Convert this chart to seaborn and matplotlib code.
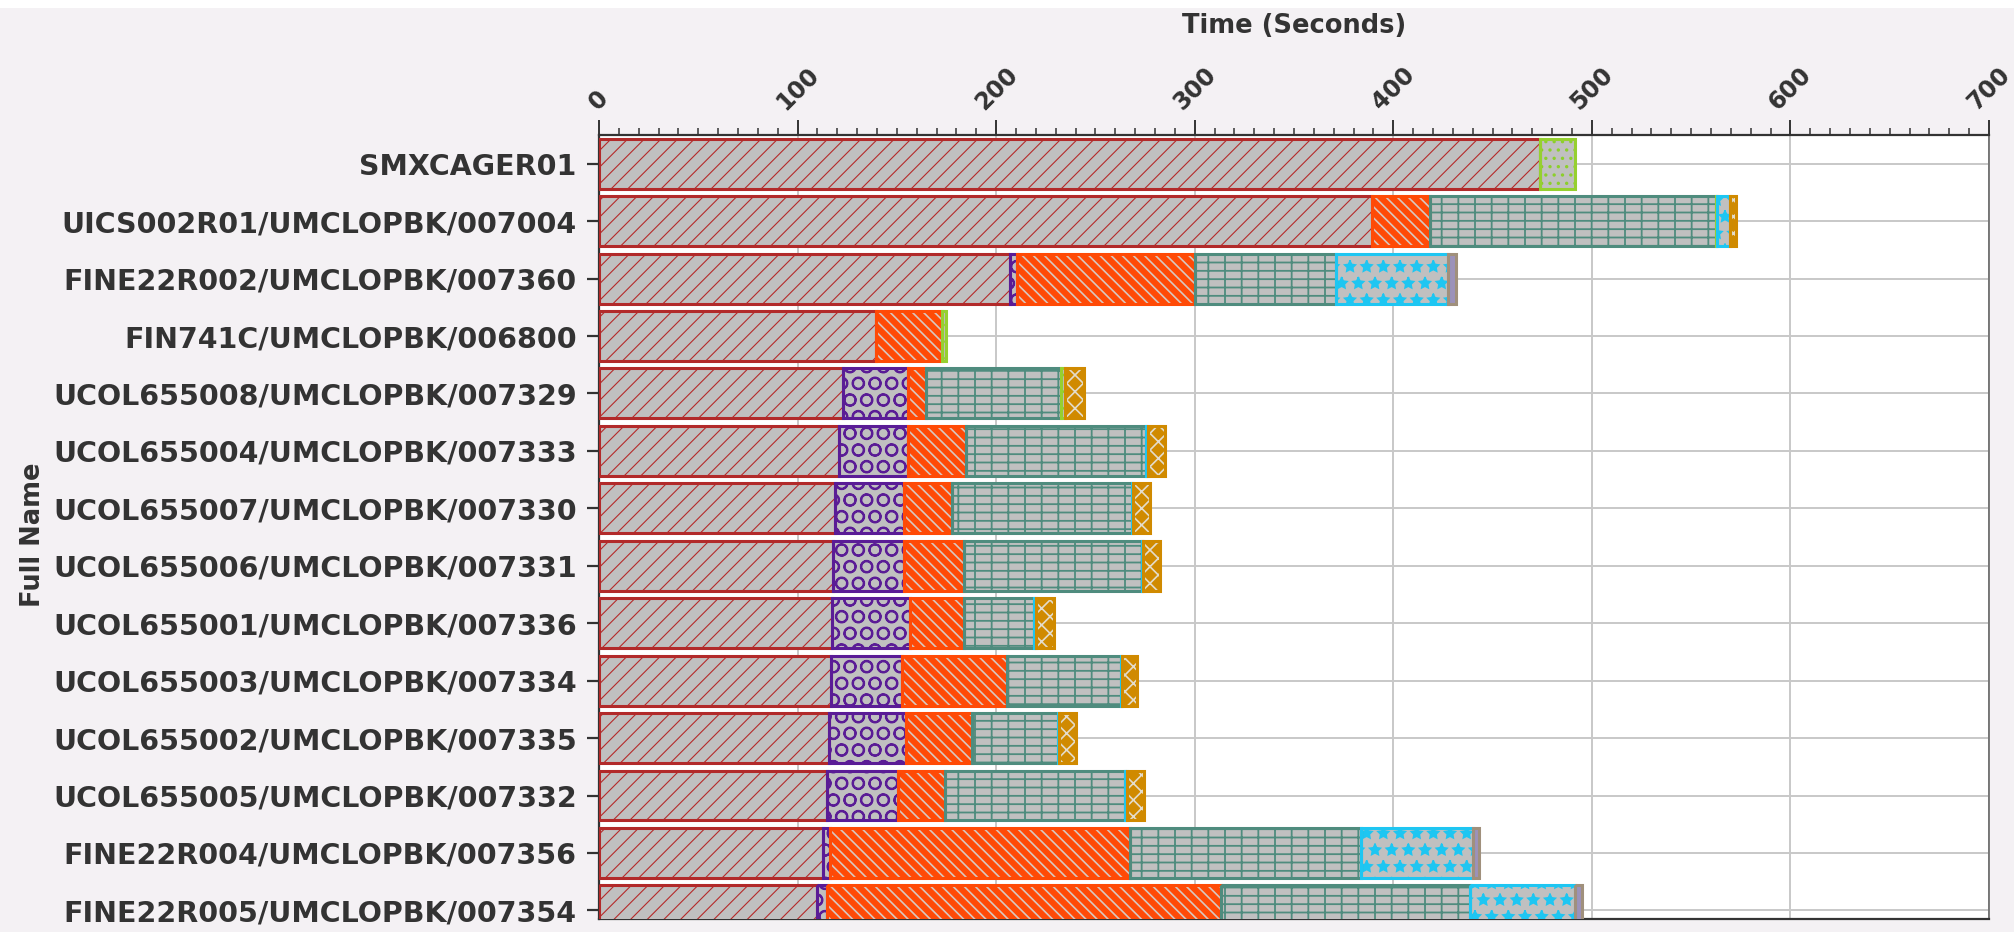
import numpy as np
import pandas as pd
import matplotlib
matplotlib.use("Agg")
import matplotlib.pyplot as plt
from matplotlib.patches import Rectangle
from matplotlib.ticker import MultipleLocator
import seaborn as sns

# --- data (seconds per segment, top row first) ---
NAMES = [
    "SMXCAGER01",
    "UICS002R01/UMCLOPBK/007004",
    "FINE22R002/UMCLOPBK/007360",
    "FIN741C/UMCLOPBK/006800",
    "UCOL655008/UMCLOPBK/007329",
    "UCOL655004/UMCLOPBK/007333",
    "UCOL655007/UMCLOPBK/007330",
    "UCOL655006/UMCLOPBK/007331",
    "UCOL655001/UMCLOPBK/007336",
    "UCOL655003/UMCLOPBK/007334",
    "UCOL655002/UMCLOPBK/007335",
    "UCOL655005/UMCLOPBK/007332",
    "FINE22R004/UMCLOPBK/007356",
    "FINE22R005/UMCLOPBK/007354",
]

seg_red = [474.1, 389.5, 207.0, 139.7, 122.9, 120.7, 119.1, 118.0, 117.1, 117.0, 115.8, 115.0, 113.0, 110.0]
seg_purple = [0, 0, 3.3, 0, 32.9, 35.1, 34.4, 35.5, 39.5, 35.7, 38.8, 35.4, 3.3, 4.6]
seg_orange = [0, 29.1, 89.9, 33.0, 9.0, 29.2, 24.2, 30.4, 27.1, 53.0, 33.0, 23.7, 150.9, 198.6]
seg_teal = [0, 143.8, 71.2, 0, 68.0, 90.6, 90.6, 89.4, 35.6, 57.0, 43.4, 90.9, 116.6, 125.2]
seg_green = [17.3, 0.6, 0, 2.0, 2.0, 0, 0, 0, 0, 0, 0, 0, 0, 0]
seg_cyan = [0, 6.5, 56.1, 0, 0, 0.7, 0.7, 0.7, 0.7, 0.7, 0.7, 0.7, 56.2, 53.0]
seg_gold = [0, 3.3, 0, 0, 9.6, 8.6, 8.5, 8.4, 9.0, 7.6, 8.3, 8.9, 0, 0]
seg_lilac = [0, 0, 4.0, 0, 0, 0, 0, 0, 0, 0, 0, 0, 3.2, 3.4]

X_TICKS = [0, 100, 200, 300, 400, 500, 600, 700]

# (values, face, hatch colour, hatch, hatch width, edge)
SEGMENTS = [
    (seg_red, "#c0c0c0", "#b52a2a", "//", 0.8, "#b22a2a"),
    (seg_purple, "#c0c0c0", "#5a1c96", "O", 1.4, "#5a1c96"),
    (seg_orange, "#ff4a06", "#d8c8c0", "\\\\\\", 1.2, "#ff4a06"),
    (seg_teal, "#c0c0c0", "#4f8c7e", "--|", 1.3, "#4f8c7e"),
    (seg_green, "#c0c0c0", "#8ccf2c", "..", 1.2, "#96d030"),
    (seg_cyan, "#c0c0c0", "#1ec6f2", "*", 1.2, "#1ec6f2"),
    (seg_gold, "#d08a00", "#e4dccb", "xx", 1.2, "#d08a00"),
    (seg_lilac, "#9c92ba", "#9c92ba", "", 1.0, "#a0907c"),
]

sns.set_theme(style="white")
plt.rcParams["font.family"] = ["DejaVu Sans"]
plt.rcParams["hatch.linewidth"] = 1.2

fig = plt.figure(figsize=(20.15, 9.32), dpi=100, facecolor="#f4f1f4")
ax = fig.add_axes([599 / 2015, 13 / 932, 1390 / 2015, 784 / 932])
ax.set_facecolor("white")

n = len(NAMES)
left = np.zeros(n)
for values, face, hcol, hatch, hlw, edge in SEGMENTS:
    dur = np.array(values, dtype=float)
    end = left + dur
    mask = dur > 0
    sub = pd.DataFrame({"name": np.array(NAMES)[mask], "end": end[mask]})
    for layer in ("fill", "edge"):
        n0 = len(ax.patches)
        sns.barplot(data=sub, x="end", y="name", order=NAMES, orient="h",
                    width=0.87, errorbar=None, ax=ax)
        for p in ax.patches[n0:]:
            row = int(round(p.get_y() + p.get_height() / 2))
            p.set_x(left[row])
            p.set_width(dur[row])
            p.set_zorder(3 if layer == "fill" else 4)
            if layer == "fill":
                p.set_facecolor(face)
                p.set_edgecolor(hcol)
                p.set_hatch(hatch)
                p.set_linewidth(0)
                if hasattr(p, "set_hatch_linewidth"):
                    p.set_hatch_linewidth(hlw)
            else:
                p.set_facecolor("none")
                p.set_edgecolor(edge)
                p.set_linewidth(2.2)
    left = end

# axes styling
ax.set_xlim(0, 700)
ax.set_ylim(13.15, -0.5)
ax.xaxis.tick_top()
ax.xaxis.set_label_position("top")
ax.set_xticks(X_TICKS)
ax.set_xticklabels([str(t) for t in X_TICKS], rotation=45, ha="center", va="bottom",
                   fontsize=17, fontweight="bold", color="#333333")
ax.xaxis.set_minor_locator(MultipleLocator(10))
ax.tick_params(axis="x", which="major", top=True, bottom=False, length=11, width=1.4,
               color="#333333", pad=4)
ax.tick_params(axis="x", which="minor", top=True, bottom=False, length=5, width=1.1,
               color="#333333")
ax.set_yticks(range(n))
ax.set_yticklabels(NAMES, fontsize=20.5, fontweight="bold", color="#333333")
ax.tick_params(axis="y", which="major", left=True, length=9, width=1.6,
               color="#333333", pad=7)

ax.set_xlabel("Time (Seconds)", fontsize=18.5, fontweight="bold", color="#333333")
ax.xaxis.set_label_coords(0.5, 1.13)
ax.set_ylabel("Full Name", fontsize=18.5, fontweight="bold", color="#333333")
ax.yaxis.set_label_coords(-0.398, 0.49)

ax.grid(True, axis="both", which="major", color="#c8c8c8", linewidth=1.4)
ax.set_axisbelow(True)
for side in ["top", "left", "bottom"]:
    ax.spines[side].set_color("#333333")
    ax.spines[side].set_linewidth(1.6)
ax.spines["right"].set_color("#666666")
ax.spines["right"].set_linewidth(1.2)

# white strip across the top of the screenshot
fig.patches.append(Rectangle((0, 1 - 8 / 932), 1, 8 / 932, transform=fig.transFigure,
                             facecolor="white", edgecolor="none", zorder=0))

fig.savefig("out.png", dpi=100, facecolor=fig.get_facecolor())
